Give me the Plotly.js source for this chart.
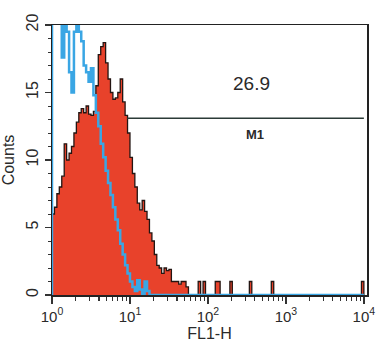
<!DOCTYPE html>
<html>
<head>
<meta charset="utf-8">
<script src="https://cdn.plot.ly/plotly-3.0.1.min.js"></script>
<style>html,body{margin:0;padding:0;background:#fff;}#chart{width:378px;height:346px;}</style>
</head>
<body>
<div id="chart"></div>
<script>
// FL1-H channel bin edges (fluorescence units), main region
var fl1Edges = [1.000,1.075,1.155,1.241,1.334,1.434,1.540,1.656,1.778,1.911,
  2.054,2.207,2.371,2.548,2.738,2.943,3.162,3.398,3.652,3.924,
  4.217,4.532,4.870,5.233,5.623,6.043,6.494,6.978,7.499,8.058,
  8.660,9.306,10.00,10.75,11.55,12.41,13.34,14.34,15.40,16.55,
  17.78,19.11,20.54,22.07,23.71,25.48,27.38,29.43,31.62,33.98,
  36.52,39.24,42.17,45.32,48.70,52.33,56.23];
// stained sample (red, filled)
var redCounts = [6.0,6.5,7.5,8.0,8.8,11.2,10.0,10.5,11.0,12.0,
  12.8,13.5,13.8,13.5,14.0,13.4,13.3,13.6,15.5,17.8,
  18.4,18.7,17.2,16.0,15.0,14.5,14.6,15.0,16.0,14.3,
  13.3,12.0,10.2,9.0,8.0,6.8,6.3,7.0,6.2,5.6,
  4.6,4.0,3.0,2.2,2.0,1.6,2.0,1.8,1.9,1.0,
  1.0,1.0,0.8,1.0,1.0,0.6,0];
// sparse single events above 10^1.8
var tailEdges = [74.99,80.58,86.60,93.06,124.1,143.3,191.1,205.4,339.9,365.2,649.4,697.8,9306,10000];
var tailCounts = [1,0,1,0,1,0,1,0,1,0,1,0,1,0];
// control (blue line)
var blueCounts = [25,24,23,22,17.6,20.5,19.5,16.5,15.0,19.5,
  20.5,19.5,18.8,17.0,16.5,15.8,16.8,14.8,13.5,12.5,
  11.2,10.2,9.2,8.3,7.4,6.5,5.6,4.8,3.8,3.0,
  2.2,1.6,1.0,0.6,0.3,1.1,0.4,0.0,1.0,0.3,0];
var blueEnd = [10000];
// marker M1
var m1Range = [9.2, 10000];
var m1Level = 13.1;
var m1Percent = "26.9";
var m1Name = "M1";
var xTickVals = [1,10,100,1000,10000];
var xTickText = ["10<sup>0</sup>","10<sup>1</sup>","10<sup>2</sup>","10<sup>3</sup>","10<sup>4</sup>"];
var yTickVals = [0,5,10,15,20];

var minorX = [];
[1,10,100,1000].forEach(function(d){for(var m=2;m<=9;m++)minorX.push(d*m);});

var redX = fl1Edges.concat(tailEdges);
var redY = redCounts.concat(tailCounts);
// histogram closed at the first edge
var blueX = [fl1Edges[0]].concat(fl1Edges.slice(0, blueCounts.length), blueEnd);
var blueY = [0].concat(blueCounts, [0]);

var traces = [
  {x: redX, y: redY, type:'scatter', mode:'lines', line:{shape:'hv', color:'#231512', width:1.3},
   fill:'tozeroy', fillcolor:'#e8422b', hoverinfo:'skip'},
  {x: blueX, y: blueY, type:'scatter', mode:'lines', line:{shape:'hv', color:'#3aa6e4', width:2.5},
   hoverinfo:'skip'},
  {x: m1Range, y:[m1Level, m1Level], type:'scatter', mode:'lines', line:{color:'#2b3a36', width:1.5}, hoverinfo:'skip'}
];

var fontFam = 'Liberation Sans, Arial, sans-serif';
var layout = {
  width:378, height:346,
  margin:{l:52, r:11, t:25, b:51},
  paper_bgcolor:'#fff', plot_bgcolor:'#fff',
  showlegend:false,
  font:{family:fontFam, color:'#2a2a2a'},
  xaxis:{type:'log', range:[0,4.04], showgrid:false, zeroline:false,
    showline:true, linecolor:'#222', linewidth:1.5, mirror:true,
    ticks:'outside', ticklen:7, tickwidth:1.5, tickcolor:'#333',
    tickmode:'array', tickvals:xTickVals, ticktext:xTickText,
    tickfont:{size:15, family:fontFam, color:'#2a2a2a'},
    minor:{tickmode:'array', tickvals:minorX, ticks:'outside', ticklen:4, tickwidth:1.2, tickcolor:'#333', showgrid:false},
    title:{text:'FL1-H', font:{size:16, family:fontFam, color:'#2a2a2a'}, standoff:4}},
  yaxis:{range:[0,20], showgrid:false, zeroline:false,
    showline:true, linecolor:'#222', linewidth:1.5, mirror:true,
    ticks:'outside', ticklen:6, tickwidth:1.5, tickcolor:'#333',
    tickmode:'array', tickvals:yTickVals, tickangle:-90,
    tickfont:{size:16, family:fontFam, color:'#2a2a2a'},
    minor:{dtick:1, ticks:'outside', ticklen:3, tickwidth:1, tickcolor:'#333', showgrid:false},
    title:{text:'Counts', font:{size:16, family:fontFam, color:'#2a2a2a'}, standoff:6}},
  annotations:[
    {x:Math.log10(365), y:15.7, xref:'x', yref:'y', text:m1Percent, showarrow:false,
     font:{size:19, family:fontFam, color:'#2a2a2a'}},
    {x:Math.log10(400), y:11.9, xref:'x', yref:'y', text:'<b>' + m1Name + '</b>', showarrow:false,
     font:{size:13, family:fontFam, color:'#2a2a2a'}}
  ]
};
Plotly.newPlot('chart', traces, layout, {displayModeBar:false, staticPlot:true});
</script>
</body>
</html>
